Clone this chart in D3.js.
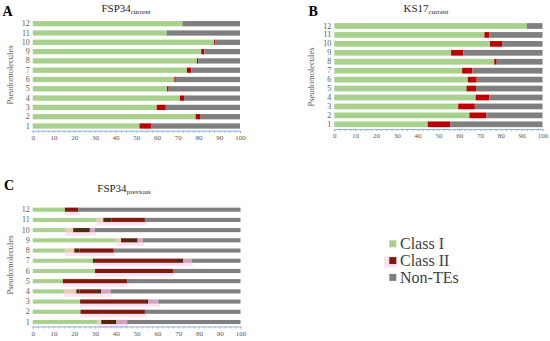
<!DOCTYPE html>
<html><head><meta charset="utf-8">
<script src="https://cdn.jsdelivr.net/npm/d3@7"></script>
<style>body{margin:0;background:#fff}svg{display:block}text{font-family:"Liberation Serif","Times New Roman",serif}</style>
</head><body><svg id="c" width="550" height="341"></svg>
<script>
// ---- data ----
const rows = ["1","2","3","4","5","6","7","8","9","10","11","12"];
const xTicks = [0,10,20,30,40,50,60,70,80,90,100];
// Panel A: FSP34 current (percent)
const fspCurClassI  = [51.5,78.6,59.8,71.0,64.8,68.3,74.4,79.2,81.3,87.5,64.6,72.2];
const fspCurClassII = [5.6,2.1,4.4,2.0,0.8,0.7,2.1,0.7,1.5,0.7,0,0];
// Panel B: KS17 current
const ksCurClassI  = [44.9,64.9,59.5,67.9,63.5,64.1,61.4,76.8,56.1,74.8,72.1,92.5];
const ksCurClassII = [10.7,8.1,8.0,6.5,4.6,4.3,4.9,1.2,5.9,5.8,2.4,0];
// Panel C: FSP34 previous (overlaid segments)
const prevClassI   = [31,23,22.8,15,14.5,30,29,15.5,40,15.5,30.8,15.5];
const prevTan      = [2,0,0,6,0,0,0,4.5,2.5,4,3.2,0];
const prevDarkII   = [7.3,0,0,1.5,0,0,1,2.5,8,8,4,0];
const prevClassII  = [0,31,31.2,8,31,37.6,39,16.5,0,0,16,6.5];
const prevDarkII2  = [0,0,1.6,2.5,0,0,3.5,0,0,0,0,0];
const prevMauve    = [5.2,0,4.9,4.5,0,0,4,0,2.5,2.5,0,0];
const legendLabels = ["Class I","Class II","Non-TEs"];

const col = {green:"#a9d18e", red:"#c00000", gray:"#7f7f7f", tan:"#e9cdb0", dark:"#55280c", darkred:"#7d1c0c", mauve:"#d2a3bd", pink:"#fde2f6"};

const svg = d3.select("#c");

function panel(opt){
  const g = svg.append("g");
  const x = d3.scaleLinear().domain([0,100]).range(opt.xr);
  const y = d3.scaleBand().domain(rows.slice().reverse()).range(opt.yr).paddingInner(opt.pad).paddingOuter(opt.pad/2);
  // highlight
  if(opt.pink){
    g.selectAll("rect.pk").data(opt.pink).enter().append("rect")
      .attr("x",d=>x(d[0])).attr("width",d=>x(d[1])-x(d[0]))
      .attr("y",(d,i)=>y(rows[i])-0.5).attr("height",y.bandwidth()+4)
      .attr("fill",col.pink);
  }
  // segments
  opt.segs.forEach((segList,i)=>{
    let acc = 0;
    segList.forEach(s=>{
      if(s.v<=0) return;
      g.append("rect").attr("x",x(acc)).attr("width",x(acc+s.v)-x(acc))
        .attr("y",y(rows[i])).attr("height",y.bandwidth()).attr("fill",s.c);
      acc += s.v;
    });
    g.append("rect").attr("x",x(acc)).attr("width",x(100)-x(acc))
      .attr("y",y(rows[i])).attr("height",y.bandwidth()).attr("fill",col.gray);
  });
  // x axis
  const ax = g.append("g").attr("transform",`translate(0,${opt.axisY})`)
    .call(d3.axisBottom(x).tickValues(d3.range(0,100.01,2.5)).tickSize(2)
      .tickFormat(d=> d%10===0 ? d : ""));
  ax.attr("font-family",null);
  ax.select(".domain").attr("stroke","#8db3e2");
  ax.selectAll(".tick line").attr("stroke","#8db3e2");
  ax.selectAll(".tick text").attr("fill","#595959").attr("font-size",7).attr("dy","0.6em");
  // y axis
  const ay = g.append("g").attr("transform",`translate(${opt.xr[0]},0)`)
    .call(d3.axisLeft(y).tickSize(0).tickPadding(3));
  ay.attr("font-family",null);
  ay.select(".domain").remove();
  ay.selectAll(".tick text").attr("fill","#595959").attr("font-size",8);
  // axis title
  g.append("text").attr("transform",`translate(${opt.ylabX},${opt.ylabY}) rotate(-90)`)
    .attr("text-anchor","middle").attr("font-size",8.5).attr("fill","#595959").text("Pseudomolecules");
  // title
  const t = g.append("text").attr("x",opt.titleX).attr("y",opt.titleY).attr("text-anchor","middle")
    .attr("fill","#262626").attr("font-size",11);
  t.append("tspan").text(opt.title);
  t.append("tspan").attr("font-size",7).attr("dy",1.8).text(opt.sub);
  // letter
  g.append("text").attr("x",opt.letter[0]).attr("y",opt.letter[1]).attr("font-size",14)
    .attr("font-weight","bold").attr("fill","#000").text(opt.letter[2]);
}

panel({xr:[32.7,240], yr:[19.05,130.65], pad:0.43, axisY:130.7,
  segs: rows.map((r,i)=>[{v:fspCurClassI[i],c:col.green},{v:fspCurClassII[i],c:col.red}]),
  ylabX:13, ylabY:75, title:"FSP34", sub:"current", titleX:126, titleY:12, letter:[2.5,15.5,"A"]});

panel({xr:[334.3,542.5], yr:[21.53,128.77], pad:0.36, axisY:129,
  segs: rows.map((r,i)=>[{v:ksCurClassI[i],c:col.green},{v:ksCurClassII[i],c:col.red}]),
  ylabX:314, ylabY:77, title:"KS17", sub:"current", titleX:426, titleY:12, letter:[308.5,15.5,"B"]});

panel({xr:[32.7,240.5], yr:[204.6,327.1], pad:0.6, axisY:326.5,
  pink: rows.map((r,i)=>{const s=prevClassI[i]; const e=s+prevTan[i]+prevDarkII[i]+prevClassII[i]+prevDarkII2[i]+prevMauve[i]; return [s,e+0.5];}),
  segs: rows.map((r,i)=>[{v:prevClassI[i],c:col.green},{v:prevTan[i],c:col.tan},{v:prevDarkII[i],c:col.dark},
    {v:prevClassII[i],c:col.darkred},{v:prevDarkII2[i],c:col.dark},{v:prevMauve[i],c:col.mauve}]),
  ylabX:13, ylabY:265, title:"FSP34", sub:"previous", titleX:124, titleY:192, letter:[4,190,"C"]});

// legend
const legColors = [col.green, col.darkred, col.gray];
const lg = svg.append("g");
lg.append("rect").attr("x",384).attr("y",256.5).attr("width",13).attr("height",11).attr("fill",col.pink);
legendLabels.forEach((l,i)=>{
  const yb = 249.3 + i*16.8;
  lg.append("rect").attr("x",389.3).attr("y",yb-9).attr("width",7).attr("height",7).attr("fill",legColors[i]);
  lg.append("text").attr("x",400).attr("y",yb).attr("font-size",16).attr("fill","#404040").text(l);
});
</script></body></html>
